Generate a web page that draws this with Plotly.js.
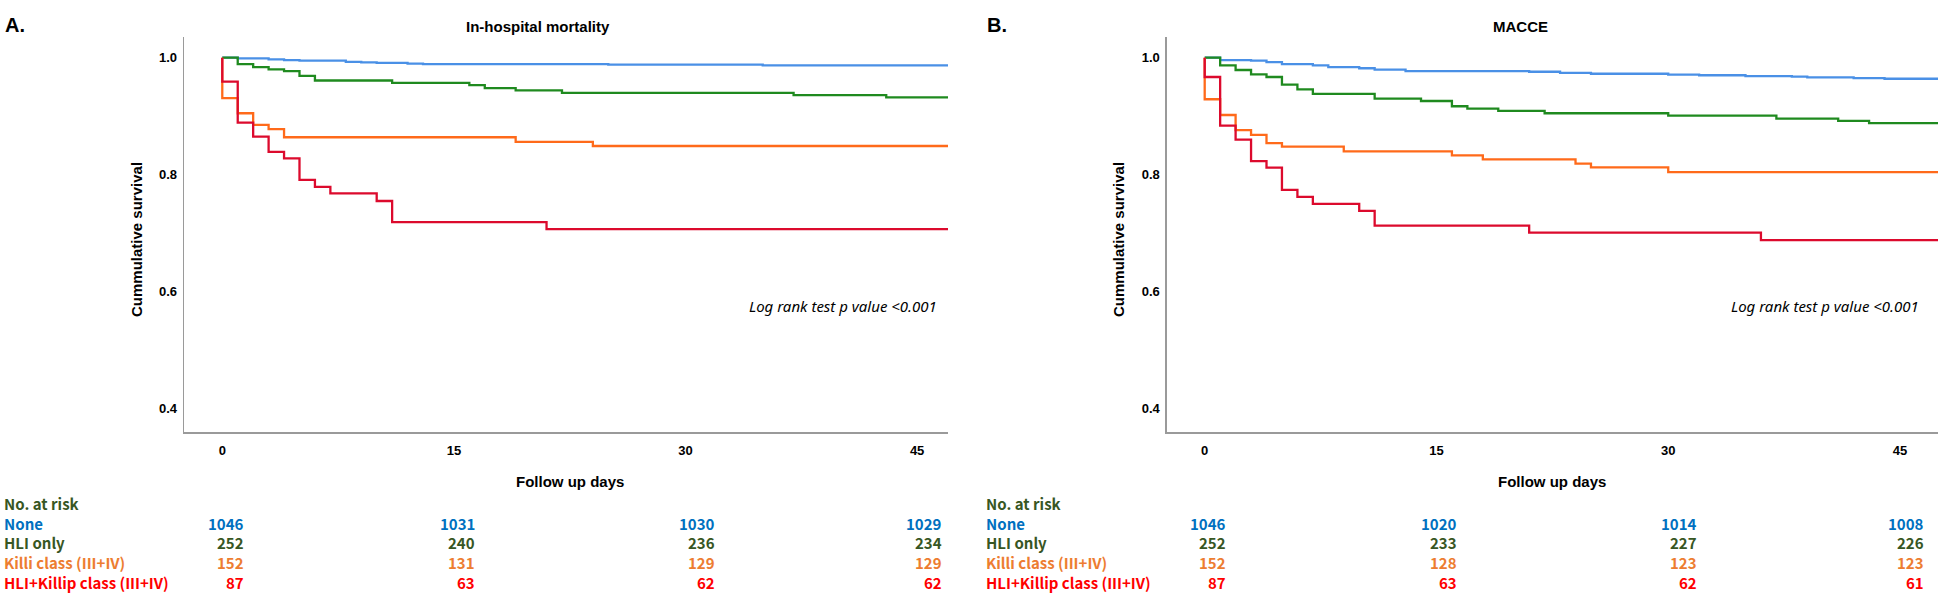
<!DOCTYPE html>
<html>
<head>
<meta charset="utf-8">
<script src="https://cdn.plot.ly/plotly-3.0.1.min.js"></script>
<style>html,body{margin:0;padding:0;background:#fff;}#chart{width:1948px;height:594px;}</style>
</head>
<body>
<div id="chart"></div>
<script>
// ---------- DATA ----------
const groupNames = ["None", "HLI only", "Killi class (III+IV)", "HLI+Killip class (III+IV)"];
const riskDays = [0, 15, 30, 45];

// Panel A: In-hospital mortality
const aEndDay = 47.0;
const aNoneDays = [0, 1, 3, 4, 5, 8, 9, 10, 12, 13, 25, 35];
const aNoneSurv = [1, 0.999, 0.997, 0.996, 0.995, 0.993, 0.992, 0.991, 0.990, 0.989, 0.988, 0.987];
const aHliDays = [0, 1, 2, 3, 4, 5, 6, 11, 16, 17, 19, 22, 37, 43];
const aHliSurv = [1, 0.989, 0.984, 0.980, 0.977, 0.969, 0.961, 0.957, 0.953, 0.948, 0.944, 0.940, 0.936, 0.932];
const aKilDays = [0, 0, 1, 2, 3, 4, 19, 24];
const aKilSurv = [1, 0.931, 0.905, 0.885, 0.878, 0.864, 0.856, 0.849];
const aBothDays = [0, 0, 1, 2, 3, 4, 5, 6, 7, 10, 11, 21];
const aBothSurv = [1, 0.959, 0.889, 0.865, 0.839, 0.828, 0.791, 0.779, 0.768, 0.755, 0.719, 0.707];
const aRiskNone = [1046, 1031, 1030, 1029];
const aRiskHli = [252, 240, 236, 234];
const aRiskKil = [152, 131, 129, 129];
const aRiskBoth = [87, 63, 62, 62];

// Panel B: MACCE
const bEndDay = 47.46;
const bNoneDays = [0, 1, 3, 4, 5, 7, 8, 10, 11, 13, 21, 23, 25, 30, 32, 35, 38, 39, 42, 44];
const bNoneSurv = [1, 0.996, 0.995, 0.9925, 0.989, 0.987, 0.984, 0.982, 0.9795, 0.977, 0.976, 0.974, 0.9726, 0.971, 0.970, 0.9686, 0.9675, 0.9663, 0.965, 0.964];
const bHliDays = [0, 1, 2, 3, 4, 5, 6, 7, 11, 14, 16, 17, 19, 22, 30, 37, 41, 43];
const bHliSurv = [1, 0.987, 0.979, 0.9715, 0.967, 0.954, 0.946, 0.938, 0.930, 0.926, 0.917, 0.913, 0.909, 0.905, 0.901, 0.896, 0.892, 0.888];
const bKilDays = [0, 0, 1, 2, 3, 4, 5, 9, 16, 18, 24, 25, 30];
const bKilSurv = [1, 0.929, 0.902, 0.876, 0.868, 0.854, 0.848, 0.840, 0.833, 0.826, 0.819, 0.8125, 0.8045];
const bBothDays = [0, 0, 1, 2, 3, 4, 5, 6, 7, 10, 11, 21, 36];
const bBothSurv = [1, 0.967, 0.884, 0.860, 0.823, 0.812, 0.774, 0.762, 0.750, 0.738, 0.713, 0.701, 0.688];
const bRiskNone = [1046, 1020, 1014, 1008];
const bRiskHli = [252, 233, 227, 226];
const bRiskKil = [152, 128, 123, 123];
const bRiskBoth = [87, 63, 62, 61];

const yTickVals = [0.4, 0.6, 0.8, 1.0];
const yTickText = ["0.4", "0.6", "0.8", "1.0"];
const xTickVals = [0, 15, 30, 45];
const xTickText = ["0", "15", "30", "45"];

// ---------- STYLE ----------
const W = 1948, H = 594;
const lineColors = ["#4a90e6", "#1f8a1f", "#ff6a1a", "#dc0a2d"];
const textColors = ["#0070c0", "#375623", "#ed7d31", "#ff0000"];
const px = x => x / W;
const py = y => 1 - y / H;

function ext(days, surv, end) {
  return {x: days.concat([end]), y: surv.concat([surv[surv.length - 1]])};
}

const traces = [];
function addPanel(series, end, xa, ya) {
  series.forEach((s, i) => {
    const d = ext(s[0], s[1], end);
    traces.push({
      type: "scatter", mode: "lines", x: d.x, y: d.y, xaxis: xa, yaxis: ya,
      line: {shape: "hv", color: lineColors[i], width: 2.3},
      name: groupNames[i], showlegend: false, hoverinfo: "skip"
    });
  });
}
addPanel([[aNoneDays, aNoneSurv], [aHliDays, aHliSurv], [aKilDays, aKilSurv], [aBothDays, aBothSurv]], aEndDay, "x", "y");
addPanel([[bNoneDays, bNoneSurv], [bHliDays, bHliSurv], [bKilDays, bKilSurv], [bBothDays, bBothSurv]], bEndDay, "x2", "y2");

const axisFont = {family: "Liberation Sans, Arial, sans-serif", size: 13, color: "#000", weight: "bold"};
function xAxis(dom, range) {
  return {domain: dom, range: range, showgrid: false, zeroline: false, showline: true,
    linecolor: "#9a9a9a", linewidth: 1.6, ticks: "", tickvals: xTickVals, ticktext: xTickText,
    tickfont: axisFont, ticklabelstandoff: 6, fixedrange: true};
}
function yAxis(anchor) {
  return {domain: [py(432), py(37)], range: [0.360, 1.0354], anchor: anchor, showgrid: false,
    zeroline: false, showline: true, linecolor: "#9a9a9a", linewidth: 1.6, ticks: "",
    tickvals: yTickVals, ticktext: yTickText, tickfont: axisFont, ticklabelstandoff: 3, fixedrange: true};
}

const ann = [];
const titleFont = {family: "Liberation Sans, Arial, sans-serif", size: 15, color: "#000"};
const tableFont = (c) => ({family: "Noto Sans CJK KR, Noto Sans, sans-serif", size: 15, color: c});
function addText(text, x, y, font, xanchor, extra) {
  ann.push(Object.assign({text: text, x: px(x), y: py(y), xref: "paper", yref: "paper",
    showarrow: false, xanchor: xanchor || "center", yanchor: "middle", font: font, borderpad: 0}, extra || {}));
}

function addPanelTexts(off, letter, title, risk) {
  addText("<b>" + letter + "</b>", 4 + off, 25, {family: "Liberation Sans, Arial, sans-serif", size: 20, color: "#000"}, "left");
  addText("<b>" + title + "</b>", 538 + off, 26, titleFont, "center");
  addText("<b>Cummulative survival</b>", 137 + off, 240, titleFont, "center", {textangle: -90});
  addText("<b>Follow up days</b>", 570 + off, 481, titleFont, "center");
  addText("<i>Log rank test p value &lt;0.001</i>", 938 + off, 306,
    {family: "Noto Sans, sans-serif", size: 15, color: "#000"}, "right");
  addText("<b>No. at risk</b>", 3 + off, 503, tableFont(textColors[1]), "left");
  const rowsY = [523, 542.5, 562, 582];
  const colsX = [245, 476, 716, 943];
  rowsY.forEach((ry, i) => {
    addText("<b>" + groupNames[i] + "</b>", 3 + off, ry, tableFont(textColors[i]), "left");
    risk[i].forEach((v, j) => {
      addText("<b>" + v + "</b>", colsX[j] + off, ry, tableFont(textColors[i]), "right");
    });
  });
}
addPanelTexts(0, "A.", "In-hospital mortality", [aRiskNone, aRiskHli, aRiskKil, aRiskBoth]);
addPanelTexts(982, "B.", "MACCE", [bRiskNone, bRiskHli, bRiskKil, bRiskBoth]);

const layout = {
  width: W, height: H, margin: {l: 0, r: 0, t: 0, b: 0},
  paper_bgcolor: "#fff", plot_bgcolor: "#fff", showlegend: false,
  xaxis: xAxis([px(184.3), px(948)], [-2.46, aEndDay]),
  yaxis: yAxis("x"),
  xaxis2: xAxis([px(1167), px(1938)], [-2.44, bEndDay]),
  yaxis2: yAxis("x2"),
  annotations: ann
};
layout.xaxis.anchor = "y";
layout.xaxis2.anchor = "y2";

Plotly.newPlot("chart", traces, layout, {staticPlot: true, displayModeBar: false});
</script>
</body>
</html>
